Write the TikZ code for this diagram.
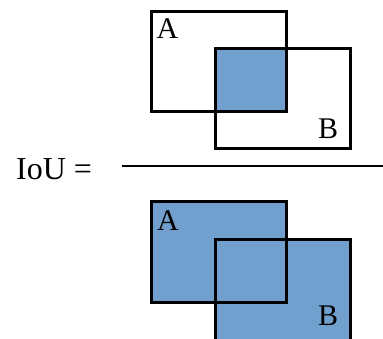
\documentclass[tikz,border=0pt]{standalone}
\usepackage{fontspec}
\setmainfont{Liberation Serif}
\definecolor{boxblue}{RGB}{113,159,206}
\begin{document}
\begin{tikzpicture}[x=1pt,y=-1pt,
  box/.style={draw=black,line width=3pt,line join=miter},
  lbl/.style={inner sep=0pt,anchor=base west,font=\fontsize{30}{32}\selectfont},
  eq/.style={inner sep=0pt,anchor=base west,font=\fontsize{32}{34}\selectfont}]
\useasboundingbox (0,0) rectangle (383,338);
\clip (0,0) rectangle (383,338);
% numerator
\fill[boxblue] (215.7,48) rectangle (286.7,111);
\draw[box] (151.7,11) rectangle (286.7,111);
\draw[box] (215.7,48) rectangle (350,148);
\node[lbl] (na) at (156.5,38.5) {A};
\node[lbl] (nb) at (318,138.5) {B};
% fraction
\node[eq] (iou) at (16,179) {IoU =};
\coordinate (l1) at (122,166);
\coordinate (l2) at (383,166);
\draw[line width=2.2pt] (l1) -- (l2);
% denominator
\fill[boxblue] (151.7,201.7) rectangle (286.7,302);
\fill[boxblue] (215.7,239) rectangle (350,345);
\draw[box] (151.7,201.7) rectangle (286.7,302);
\draw[box] (215.7,239) rectangle (350,345);
\node[lbl] (da) at (157,230.5) {A};
\node[lbl] (db) at (318,325) {B};
\end{tikzpicture}
\end{document}
